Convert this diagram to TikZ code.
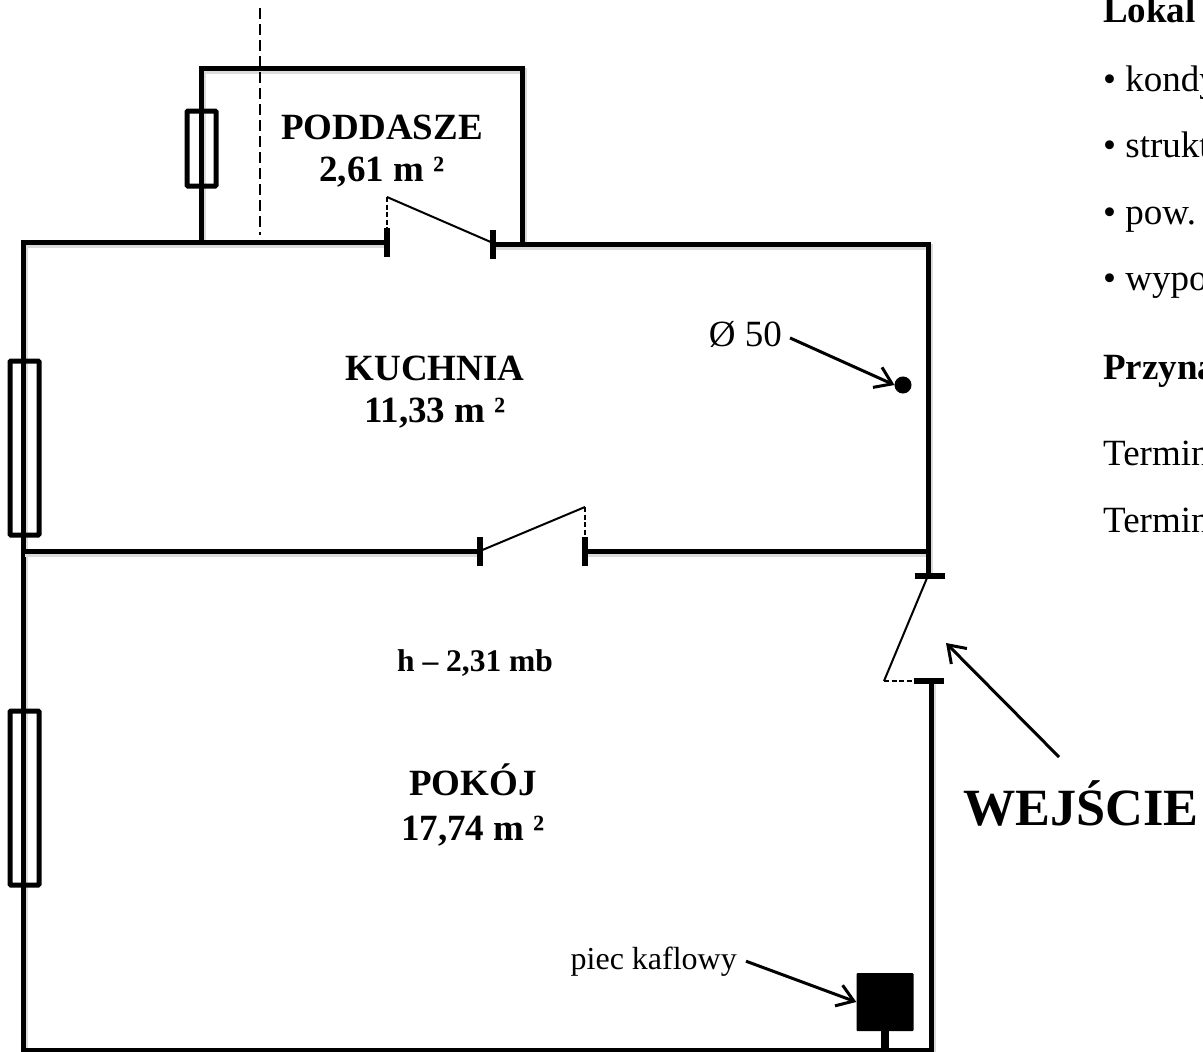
\documentclass[tikz,border=0pt]{standalone}
\usepackage{fontspec}
\setmainfont{Liberation Serif}
\usetikzlibrary{arrows.meta}
\tikzset{
	softshadow/.style={preaction={draw=black!14,line width=6pt,transform canvas={xshift=1.5pt,yshift=-3pt}}},
	wall/.style={line width=5pt,softshadow},
	jamb/.style={line width=6pt},
	doorleaf/.style={line width=2pt},
	doorgap/.style={line width=1.5pt,dash pattern=on 5pt off 2.5pt},
	window/.style={line width=5pt,rounded corners=1pt},
	pointer/.style={line width=3pt,-{Straight Barb[length=16pt,width=22pt,line width=3pt]}},
	roomlabel/.style={font=\fontsize{37}{42}\selectfont\bfseries,align=center,inner sep=0pt},
	sidetext/.style={font=\fontsize{37}{42}\selectfont,anchor=base west,inner sep=0pt},
	sidehead/.style={sidetext,font=\fontsize{37}{42}\selectfont\bfseries},
}

\begin{document}
\begin{tikzpicture}[x=1pt,y=-1pt]
			\useasboundingbox (0,0) rectangle (1203,1052);
			\clip (0,0) rectangle (1203,1052);
			
			\draw[wall] (585,551) -- (928,551);
			\draw[wall] (201,242) -- (201,68) -- (522,68) -- (522,244);
			\draw[wall] (387,242) -- (23,242) -- (23,1050) -- (931,1050) -- (931,681);
			\draw[wall] (493,244) -- (928,244) -- (928,576);
			\draw[wall] (23,551) -- (480,551);
			
			\draw[window] (187,111) rectangle (216,186);
			\draw[window] (10,361) rectangle (39,535);
			\draw[window] (10,711) rectangle (39,885);
			
			\draw[line width=2pt,dash pattern=on 11pt off 5pt] (260,8) -- (260,235);
			
			\draw[jamb] (387,228) -- (387,257);
			\draw[jamb] (493,230) -- (493,259);
			\draw[doorleaf] (387,197) -- (493,243);
			\draw[doorgap] (387,197) -- (387,228);
			
			\draw[jamb] (480,537) -- (480,566);
			\draw[jamb] (585,537) -- (585,566);
			\draw[doorleaf] (480,551) -- (585,507);
			\draw[doorgap] (585,507) -- (585,537);
			
			\draw[jamb] (915,576) -- (945,576);
			\draw[jamb] (914,681) -- (944,681);
			\draw[doorleaf] (927,578) -- (884,681);
			\draw[doorgap] (884,681) -- (914,681);
			
			\node[roomlabel] (poddasze) at (382,151) {PODDASZE\\2,61 m ²};
			\node[roomlabel] (kuchnia) at (435,392) {KUCHNIA\\11,33 m ²};
			\node[roomlabel] (pokoj) at (473,805) {POKÓJ\\[3pt]17,74 m ²};
			\node[anchor=base,inner sep=0pt,font=\fontsize{31.5}{36}\selectfont\bfseries] (wysokosc) at (475,671) {h – 2,31 mb};
			
			\node[draw,fill,line width=1pt,circle,minimum size=16pt,inner sep=0pt] (pion) at (903,385) {};
			\node[anchor=base east,inner sep=0pt,font=\fontsize{37}{42}\selectfont] (srednica) at (782,346) {Ø 50};
			\draw[pointer] (srednica.east) ++(8,4) coordinate (srednicaout) (srednicaout) -- (pion.west);
			
			\node[fill,rounded corners=1pt,minimum width=57pt,minimum height=58pt,inner sep=0pt] (piec) at (885,1002) {};
			\draw[line width=8pt] (piec.south) -- (piec.south |- 0,1050);
			\node[anchor=base east,inner sep=0pt,font=\fontsize{32}{36}\selectfont] (piecopis) at (737,969) {piec kaflowy};
			\draw[pointer] (piecopis.east) ++(9,0) coordinate (piecout) (piecout) -- (piec.west);
			
			\coordinate (wejscietip) at (946,643);
			\node[anchor=base west,inner sep=0pt,font=\fontsize{52.3}{60}\selectfont\bfseries] (wejscie) at (963,825) {WEJŚCIE};
			\draw[pointer] (1059,757) coordinate (wejscieout) -- (wejscietip);
			
			\node[sidehead] (lokal) at (1103,23) {Lokal};
			\node[sidetext] (kond) at (1103,91) {• kondy};
			\node[sidetext] (strukt) at (1103,157) {• strukt};
			\node[sidetext] (pow) at (1103,224) {• pow.};
			\node[sidetext] (wyp) at (1103,290) {• wypo};
			\node[sidehead] (przyn) at (1103,379) {Przyna};
			\node[sidetext] (terminA) at (1103,465) {Termin};
			\node[sidetext] (terminB) at (1103,532) {Termin};
			
			\end{tikzpicture}
\end{document}
